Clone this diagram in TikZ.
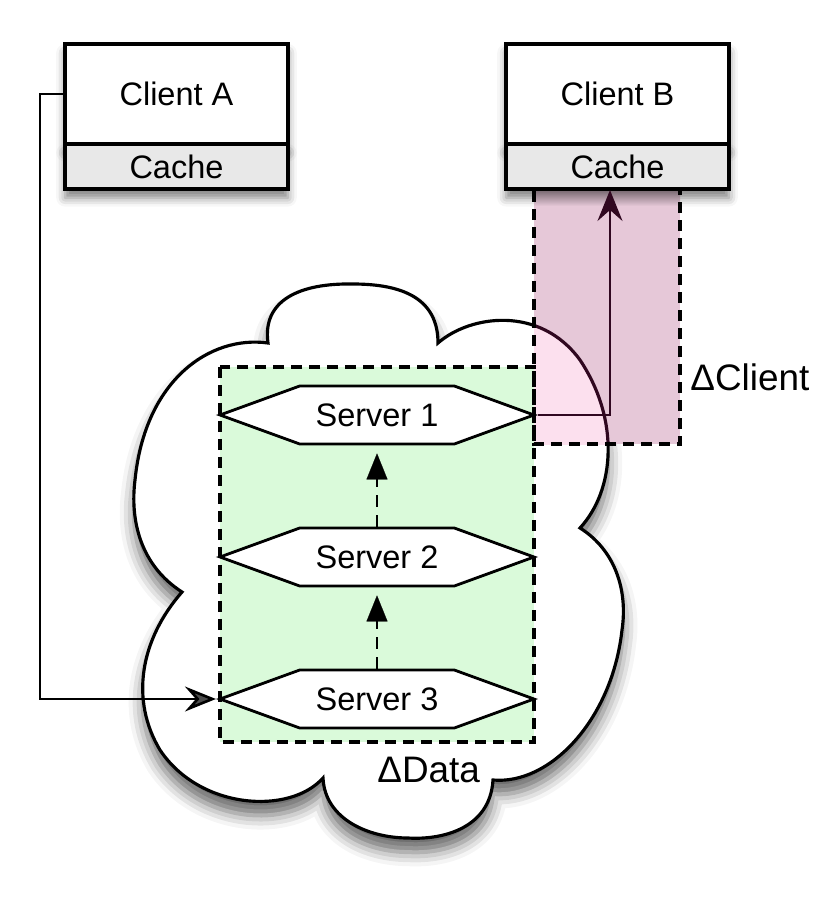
\documentclass[tikz,border=0pt]{standalone}
\usepackage{fontspec}
\setmainfont{Liberation Sans}
\usetikzlibrary{arrows.meta,positioning,shapes.symbols,shadows.blur}
\definecolor{cachegray}{RGB}{232,232,232}
\definecolor{datagreen}{RGB}{218,250,218}
\definecolor{clientpink}{RGB}{230,200,216}
\definecolor{lightpink}{RGB}{252,224,238}
\definecolor{wine}{RGB}{48,8,32}

% outline of the cloud, in pixel units
\newcommand{\cloudpath}{(268,343) .. controls (262,300) and (300,283) .. (353,284)
  .. controls (405,284) and (438,300) .. (438,343)
  .. controls (470,315) and (540,305) .. (580,360)
  .. controls (620,420) and (615,490) .. (580,528)
  .. controls (615,550) and (628,590) .. (622,630)
  .. controls (612,720) and (550,785) .. (493,780)
  .. controls (490,830) and (440,840) .. (408,838)
  .. controls (370,838) and (325,820) .. (323,778)
  .. controls (290,815) and (200,810) .. (160,750)
  .. controls (130,700) and (140,640) .. (182,592)
  .. controls (140,565) and (130,520) .. (135,480)
  .. controls (145,380) and (210,335) .. (268,343) -- cycle}

\tikzset{
  box/.style={draw, line width=1.9pt, fill=white, minimum width=4.46cm,
    inner sep=0pt, outer sep=0pt, font=\fontsize{18.5}{22}\selectfont,
    blur shadow={shadow xshift=0pt, shadow yshift=-5pt,
      shadow blur radius=5pt, shadow opacity=50}},
  clientbox/.style={box, minimum height=2cm},
  cachebox/.style={box, fill=cachegray, minimum height=0.9cm},
  server/.style={draw, fill=white, line width=1.6pt, shape=signal,
    signal to=west and east, signal pointer angle=40,
    minimum width=6.28cm, minimum height=1.16cm, inner sep=0pt,
    font=\fontsize{18.5}{22}\selectfont},
  conn/.style={line width=1.5pt,
    -{Stealth[length=0.62cm, width=0.5cm, inset=0.22cm]}},
  flow/.style={line width=1.6pt, dash pattern=on 0.24cm off 0.16cm,
    -{Triangle[length=0.52cm, width=0.42cm, fill=black, line width=0.1pt]},
    shorten >=0.16cm},
  region/.style={dash pattern=on 0.22cm off 0.14cm, line width=1.9pt},
  deltalabel/.style={anchor=base west, inner sep=0pt,
    font=\fontsize{21}{25}\selectfont}
}

\begin{document}
\begin{tikzpicture}[x=0.02cm, y=-0.02cm]
\useasboundingbox (0,0) rectangle (838,913);

% cloud
\path[fill=white, draw=black, line width=1.8pt,
  blur shadow={shadow xshift=0pt, shadow yshift=-8pt,
    shadow blur radius=8pt, shadow opacity=60}] \cloudpath;

% clients
\node[clientbox] (clientA) at (176.5,94) {Client A};
\node[cachebox, below=0pt of clientA] (cacheA) {Cache};

\node[clientbox] (clientB) at (617.5,94) {Client B};
\node[cachebox, below=0pt of clientB] (cacheB) {Cache};

% data and client regions
\fill[datagreen] (220,367) rectangle (534,742);
\begin{scope}
  \clip (534,191) rectangle (680,444);
  \fill[clientpink] (534,191) rectangle (680,444);
  \shade[top color=clientpink!55!black, bottom color=clientpink]
    (534,191) rectangle (680,206);
  \fill[lightpink] \cloudpath;
  \draw[wine, line width=1.8pt] \cloudpath;
\end{scope}
\draw[region] (220,367) rectangle (534,742);
\draw[region] (534,191) -- (534,444) -- (680,444) -- (680,191);

% servers
\node[server] (s1) at (377,415) {Server 1};
\node[server] (s2) at (377,557) {Server 2};
\node[server] (s3) at (377,699) {Server 3};

\draw[flow] (s3.north) -- (s2.south);
\draw[flow] (s2.north) -- (s1.south);

\coordinate (inB) at (610,190);

\draw[conn] (clientA.west) -- ++(-25,0) |- (s3.west);
\draw[conn, wine] (s1.east) -| (inB);

% labels
\node[deltalabel] (dclient) at (690,390) {ΔClient};
\node[deltalabel] (ddata) at (377,782) {ΔData};
\end{tikzpicture}
\end{document}
